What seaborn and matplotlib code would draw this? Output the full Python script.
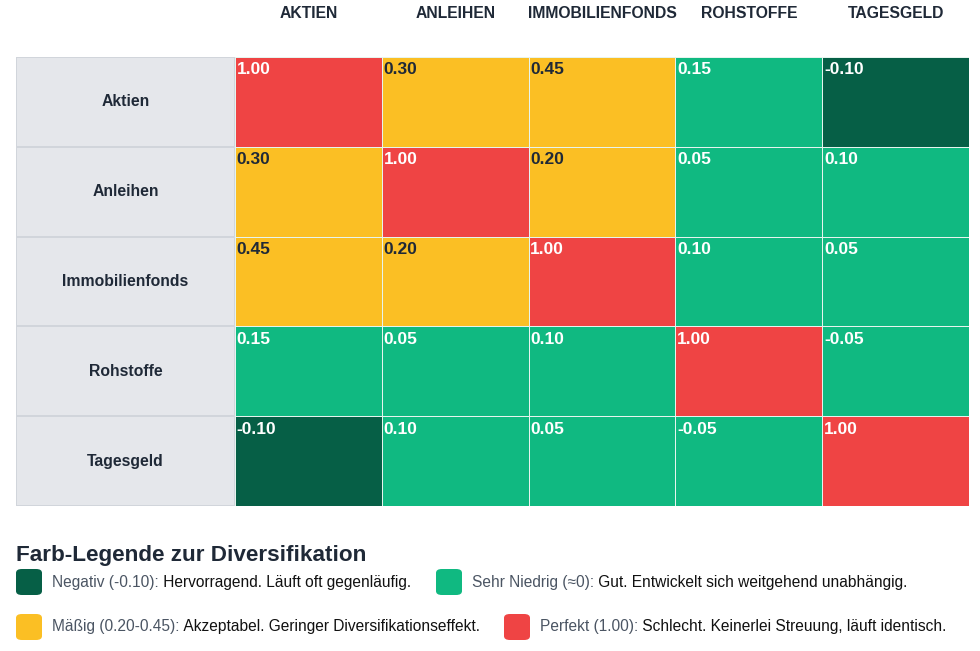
import numpy as np
import matplotlib
matplotlib.use("Agg")
import matplotlib.pyplot as plt
from matplotlib.colors import ListedColormap
from matplotlib.patches import FancyBboxPatch
import seaborn as sns

sns.set_theme(style="white")
plt.rcParams['font.family'] = ['Liberation Sans', 'DejaVu Sans']

# ---- data ----
assets = ["Aktien", "Anleihen", "Immobilienfonds", "Rohstoffe", "Tagesgeld"]
col_labels = ["AKTIEN", "ANLEIHEN", "IMMOBILIENFONDS", "ROHSTOFFE", "TAGESGELD"]
corr = [
    [1.00, 0.30, 0.45, 0.15, -0.10],
    [0.30, 1.00, 0.20, 0.05, 0.10],
    [0.45, 0.20, 1.00, 0.10, 0.05],
    [0.15, 0.05, 0.10, 1.00, -0.05],
    [-0.10, 0.10, 0.05, -0.05, 1.00],
]
legend_labels = ["Negativ (-0.10):", "Sehr Niedrig (\u22480):",
                 "M\u00e4\u00dfig (0.20-0.45):", "Perfekt (1.00):"]
legend_texts = [" Hervorragend. L\u00e4uft oft gegenl\u00e4ufig.",
                " Gut. Entwickelt sich weitgehend unabh\u00e4ngig.",
                " Akzeptabel. Geringer Diversifikationseffekt.",
                " Schlecht. Keinerlei Streuung, l\u00e4uft identisch."]
legend_title = "Farb-Legende zur Diversifikation"

# ---- styles ----
C_NEG, C_LOW, C_MID, C_HIGH = "#065f46", "#10b981", "#fbbf24", "#ef4444"
cat_colors = [C_NEG, C_LOW, C_MID, C_HIGH]
legend_colors = [C_NEG, C_LOW, C_MID, C_HIGH]

vals = np.array(corr)
def category(v):
    if v < -0.075:
        return 0
    if v < 0.175:
        return 1
    if v < 0.99:
        return 2
    return 3
cats = np.vectorize(category)(vals)

W, H = 980, 651
fig = plt.figure(figsize=(W / 100, H / 100), dpi=100)
fig.patch.set_facecolor("white")

def fx(px): return px / W
def fy(py): return 1 - py / H

top, bottom = 57, 506
# heatmap axes
ax = fig.add_axes([fx(235), fy(bottom), fx(969 - 235), (bottom - top) / H])
sns.heatmap(cats, ax=ax, cmap=ListedColormap(cat_colors), vmin=-0.5, vmax=3.5,
            cbar=False, linewidths=0.4, linecolor="#e6f4ee", annot=False,
            xticklabels=col_labels, yticklabels=False)
ax.xaxis.tick_top()
ax.tick_params(axis="x", length=0, pad=26)
for lab in ax.get_xticklabels():
    lab.set_fontsize(11.3)
    lab.set_fontweight("bold")
    lab.set_color("#1f2937")
    lab.set_rotation(0)
ax.set_xlabel("")
ax.set_ylabel("")
for i in range(vals.shape[0]):
    for j in range(vals.shape[1]):
        c = cats[i, j]
        tc = "#1f2937" if c == 2 else "white"
        ax.text(j + 0.012, i + 0.06, f"{vals[i, j]:.2f}", ha="left", va="top",
                fontsize=12.5, fontweight="bold", color=tc)

# row header axes
axr = fig.add_axes([fx(16), fy(bottom), fx(235 - 16), (bottom - top) / H])
sns.heatmap(np.zeros((len(assets), 1)), ax=axr, cmap=ListedColormap(["#e5e7eb"]),
            cbar=False, linewidths=1.2, linecolor="#d1d5db",
            xticklabels=False, yticklabels=False)
for i, name in enumerate(assets):
    axr.text(0.5, i + 0.5, name, ha="center", va="center", fontsize=11.3,
             fontweight="bold", color="#1f2937")
axr.set_xlabel("")
axr.set_ylabel("")

# legend
fig.text(fx(16), fy(555), legend_title, ha="left", va="center", fontsize=16.2,
         fontweight="bold", color="#1f2937")
positions = [(16, 582), (436, 582), (16, 627), (504, 627)]
for (px, py), col, lab, txt in zip(positions, legend_colors, legend_labels, legend_texts):
    sw = 26
    box = FancyBboxPatch((fx(px), fy(py + sw / 2)), fx(sw), sw / H,
                         boxstyle="round,pad=0,rounding_size=0.006",
                         transform=fig.transFigure, facecolor=col, edgecolor="none")
    fig.patches.append(box)
    t1 = fig.text(fx(px + sw + 10), fy(py), lab, ha="left", va="center",
                  fontsize=11.2, color="#4b5563")
    plt.annotate(txt, xy=(1, 0), xycoords=t1, ha="left", va="bottom",
                 fontsize=11.2, color="#111111", annotation_clip=False)

fig.savefig("out.png", dpi=100, facecolor="white")
